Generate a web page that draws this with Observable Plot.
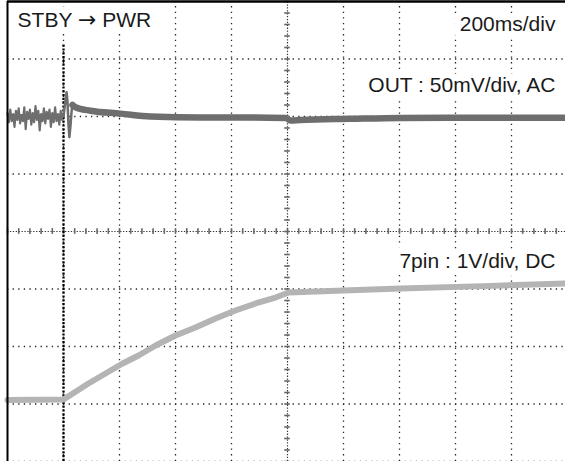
<!DOCTYPE html>
<html>
<head>
<meta charset="utf-8">
<script src="https://cdn.jsdelivr.net/npm/d3@7"></script>
<script src="https://cdn.jsdelivr.net/npm/@observablehq/plot@0.6"></script>
<style>
  html, body { margin: 0; padding: 0; background: #fff; overflow: hidden; }
  #chart svg { display: block; }
</style>
</head>
<body>
<div id="chart"></div>
<script>
// ---- Data (read from the scope capture) ----
// time in ms (200 ms/div, 10 divisions), vertical in divisions (8 divisions)
const gridTimes = [0, 200, 400, 600, 800, 1000, 1200, 1400, 1600, 1800, 2000];
const gridDivs = [-4, -3, -2, -1, 0, 1, 2, 3, 4];

// OUT channel (50 mV/div, AC), trace baseline at +2 div
const outPreTimes = [0,5,10,15,20,25,30,35,40,45,50,55,60,65,70,75,80,85,90,95,100,105,110,115,120,125,130,135,140,145,150,155,160,165,170,175,180,185,190,195];
const outPreMv = [3,-5,6,-4,2,-9,5,-3,7,-6,1,-4,8,-11,4,-2,6,-7,3,-5,9,-3,5,-12,2,-4,7,-6,4,-2,6,-9,3,-5,8,-4,2,-7,5,-3];
const outPostTimes = [200,207,211,214,218,221,225,229,232,243,296,404,511,689,868,993,1011,1046,1225,1404,1700,2000];
const outPostMv = [0,14,21,14,-8,-18,-8,5,10,8,5,2.5,0,-0.8,-0.8,-1.2,-3.5,-3,-2,-1.2,-1,-1];

// 7pin channel (1 V/div, DC), ground at -4 div
const pinTimes = [0,200,289,350,411,468,529,600,671,743,814,886,957,1004,1200,1404,1700,2000];
const pinVolts = [1.07,1.078,1.357,1.53,1.704,1.843,2.017,2.191,2.33,2.487,2.626,2.748,2.852,2.939,2.975,3.009,3.05,3.096];

const labels = ["STBY \u2192 PWR", "200ms/div", "OUT : 50mV/div, AC", "7pin : 1V/div, DC"];

// ---- Build tables ----
const OUT_MV_PER_DIV = 50, OUT_OFFSET = 2;
const PIN_V_PER_DIV = 1, PIN_OFFSET = -4;
const outPre = outPreTimes.map((t, i) => ({t, v: OUT_OFFSET + outPreMv[i] / OUT_MV_PER_DIV}));
const outPost = outPostTimes.map((t, i) => ({t, v: OUT_OFFSET + outPostMv[i] / OUT_MV_PER_DIV}));
const pin = pinTimes.map((t, i) => ({t, v: PIN_OFFSET + pinVolts[i] / PIN_V_PER_DIV}));

const minorX = d3.range(0, 2001, 40);
const minorY = d3.range(-4, 4.001, 0.2);

const dots = {stroke: "#222", strokeWidth: 1.3, strokeDasharray: "1.3,4.3"};
const font = {fontFamily: "'Liberation Sans', Arial, Helvetica, sans-serif", fontSize: 21, fill: "#1a1a1a", stroke: "white", strokeWidth: 14, lineAnchor: "bottom"};

const chart = Plot.plot({
  width: 565,
  height: 461,
  margin: 0,
  x: {domain: [0, 2000], range: [7, 567], axis: null},
  y: {domain: [-4, 4], range: [461, 1], axis: null},
  style: {background: "white"},
  marks: [
    // dotted graticule
    Plot.ruleX(gridTimes.filter(t => t !== 1000 && t !== 0), {x: d => d, y1: -4, y2: 4, ...dots}),
    Plot.ruleY(gridDivs.filter(d => d !== 0 && d !== 4), {y: d => d, x1: 0, x2: 2000, ...dots}),
    // centre lines with minor ticks
    Plot.ruleX([1000], {x: d => d, y1: -4, y2: 4, stroke: "#333", strokeWidth: 1.2, strokeDasharray: "1.3,1.6"}),
    Plot.ruleY([0], {y: d => d, x1: 0, x2: 2000, stroke: "#333", strokeWidth: 1.2, strokeDasharray: "1.3,1.6"}),
    Plot.ruleY(minorY, {y: d => d, x1: 1000 - 10, x2: 1000 + 10, stroke: "#666", strokeWidth: 1.6}),
    Plot.ruleX(minorX, {x: d => d, y1: -0.05, y2: 0.05, stroke: "#666", strokeWidth: 1.6}),
    // labels with white boxes
    Plot.text([labels[0]], {x: 36, y: 3.565, text: d => d, textAnchor: "start", ...font}),
    Plot.text([labels[1]], {x: 1957, y: 3.48, text: d => d, textAnchor: "end", ...font}),
    Plot.text([labels[2]], {x: 1957, y: 2.42, text: d => d, textAnchor: "end", ...font}),
    Plot.text([labels[3]], {x: 1957, y: -0.64, text: d => d, textAnchor: "end", ...font}),
    // trigger marker
    Plot.ruleX([200], {x: d => d, y1: -4, y2: 3.27, stroke: "#000", strokeWidth: 2.3, strokeDasharray: "2.2,1.6"}),
    // 7pin trace
    Plot.line(pin, {x: "t", y: "v", stroke: "#b4b4b4", strokeWidth: 6}),
    // OUT trace
    Plot.line(outPre, {x: "t", y: "v", stroke: "#6e6e6e", strokeWidth: 2.2}),
    Plot.ruleY([OUT_OFFSET], {y: d => d, x1: 0, x2: 200, stroke: "#6e6e6e", strokeWidth: 5}),
    Plot.line(outPost, {x: "t", y: "v", stroke: "#6e6e6e", strokeWidth: 2.5}),
    Plot.line(outPost.filter(d => d.t >= 232), {x: "t", y: "v", stroke: "#6e6e6e", strokeWidth: 6.5, curve: "monotone-x"}),
    // frame
    Plot.ruleX([0], {x: d => d, y1: -4, y2: 4, stroke: "#000", strokeWidth: 2}),
    Plot.ruleY([4], {y: d => d, x1: 0, x2: 2000, stroke: "#000", strokeWidth: 2.5})
  ]
});
// render the arrow glyph with a font that has a full-width arrow
d3.select(chart).selectAll("text").each(function() {
  const el = d3.select(this);
  const s = el.text();
  if (s.includes("\u2192")) {
    const [a, b] = s.split("\u2192");
    el.text(null);
    el.append("tspan").text(a);
    el.append("tspan").attr("font-family", "'DejaVu Sans'").attr("font-size", 22).text("\u2192");
    el.append("tspan").text(b);
  }
});
document.getElementById("chart").appendChild(chart);
</script>
</body>
</html>
